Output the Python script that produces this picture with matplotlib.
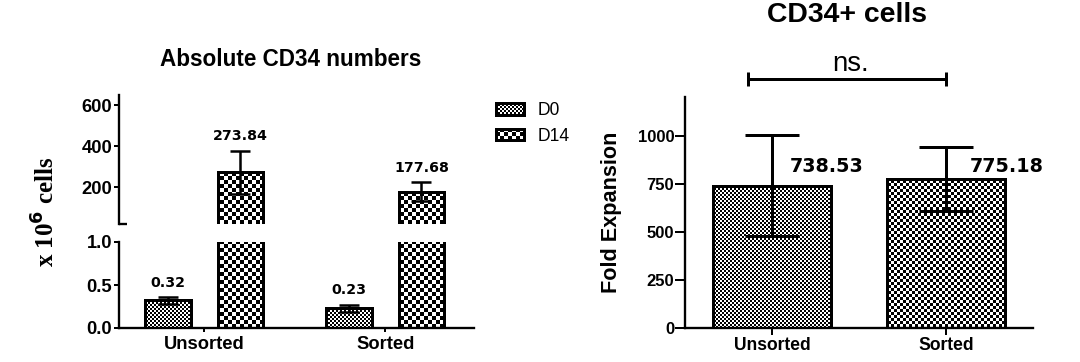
import numpy as np
import matplotlib
matplotlib.use('Agg')
import matplotlib.pyplot as plt
import matplotlib.hatch as mhatch
from matplotlib.path import Path

DPI = 120  # Agg draws a hatch tile of DPI x DPI pixels

# Data
groups = ['Unsorted', 'Sorted']
series = ['D0', 'D14']
d0_vals = [0.32, 0.23]
d0_err = [0.04, 0.04]
d14_vals = [273.84, 177.68]
d14_err = [105, 45]
fold_vals = [738.53, 775.18]
fold_err = [262, 165]


# Checkerboard style fills (GraphPad look): '+' * n -> n px squares,
# 'o' * n -> n px grid of slightly smaller dots
class Checker(mhatch.HatchPatternBase):
    char = '+'
    shrink = 0

    def __init__(self, hatch, density):
        self.cell = hatch.count(self.char)
        self.n = DPI // self.cell if self.cell else 0
        self.num_vertices = 5 * (self.n * self.n // 2)

    def set_vertices_and_codes(self, vertices, codes):
        ii, jj = np.meshgrid(np.arange(self.n), np.arange(self.n))
        mask = (ii + jj) % 2 == 0
        x0 = ii[mask] * self.cell / DPI
        y0 = jj[mask] * self.cell / DPI
        s = (self.cell - self.shrink) / DPI
        for k, (dx, dy) in enumerate([(0, 0), (s, 0), (s, s), (0, s), (0, 0)]):
            vertices[k::5, 0] = x0 + dx
            vertices[k::5, 1] = y0 + dy
        codes[:] = Path.LINETO
        codes[0::5] = Path.MOVETO
        codes[4::5] = Path.CLOSEPOLY


class Dots(Checker):
    char = 'o'
    shrink = 1


mhatch._hatch_types[:] = [Checker, Dots]

plt.rcParams['font.family'] = 'Liberation Sans'
plt.rcParams['hatch.linewidth'] = 0.0
plt.rcParams['axes.linewidth'] = 1.4

W, H = 1080, 362
fig = plt.figure(figsize=(W / DPI, H / DPI), dpi=DPI)


def px_axes(left, top, right, bottom):
    return fig.add_axes([left / W, 1 - bottom / H, (right - left) / W, (bottom - top) / H])


ax_top = px_axes(119, 95, 474, 224)
ax_bot = px_axes(119, 242, 474, 328)
ax_r = px_axes(685, 97, 1033, 328)

# ---- Left: absolute numbers with broken y axis ----
x = np.arange(len(groups))
off = 0.2
bw = 0.25
label_font = dict(family='DejaVu Sans', fontweight='bold', fontsize=8.5)

for ax in (ax_top, ax_bot):
    ax.bar(x - off, d0_vals, bw, color='white', edgecolor='black',
           linewidth=1.8, hatch='++', label=series[0])
    ax.bar(x + off, d14_vals, bw, color='white', edgecolor='black',
           linewidth=1.8, hatch='++++', label=series[1])
    ax.errorbar(x - off, d0_vals, yerr=d0_err, fmt='none', ecolor='black',
                elinewidth=1.5, capsize=6, capthick=1.5, zorder=3)
    ax.errorbar(x + off, d14_vals, yerr=d14_err, fmt='none', ecolor='black',
                elinewidth=1.5, capsize=6, capthick=1.5, zorder=3)
    for xs, vals, errs in ((x - off, d0_vals, d0_err), (x + off, d14_vals, d14_err)):
        for xi, v, e in zip(xs, vals, errs):
            ax.annotate(f'{v:.2f}', xy=(xi, v + e), xytext=(0, 4.5),
                        textcoords='offset points', ha='center', va='bottom',
                        **label_font)
    ax.set_xlim(-0.47, 1.49)
    ax.spines['top'].set_visible(False)
    ax.spines['right'].set_visible(False)
    ax.tick_params(axis='y', length=3, width=1.2, pad=1, labelsize=11)

ax_top.set_ylim(20, 650)
ax_top.set_yticks([200, 400, 600])
ax_top.set_yticks([20], minor=True)
ax_top.spines['bottom'].set_visible(False)
ax_top.tick_params(axis='x', bottom=False, labelbottom=False)
ax_top.tick_params(axis='y', which='minor', direction='in', length=5, width=1.4)

ax_bot.set_ylim(0, 1.0)
ax_bot.set_yticks([0, 0.5, 1.0], ['0.0', '0.5', '1.0'])
ax_bot.set_yticks([1.0], minor=True)
ax_bot.tick_params(axis='y', which='minor', direction='in', length=5, width=1.4)
ax_bot.set_xticks(x, groups)
ax_bot.tick_params(axis='x', length=2.5, width=1.2, pad=2.5, labelsize=11)
for ax in (ax_top, ax_bot):
    for t in ax.get_yticklabels() + ax.get_xticklabels():
        t.set_fontweight('bold')

fig.text(291 / W, 1 - 60 / H, 'Absolute CD34 numbers', ha='center', va='center',
         fontsize=13.5, fontweight='bold')
fig.text(46 / W, 1 - 212 / H, r'x 10$^{\mathbf{6}}$ cells', rotation=90,
         ha='center', va='center', family='Liberation Serif', fontsize=15,
         fontweight='bold')

handles, labels = ax_top.get_legend_handles_labels()
fig.legend(handles, labels, loc='upper left', bbox_to_anchor=(496 / W, 1 - 102 / H),
           frameon=False, borderpad=0, borderaxespad=0, fontsize=10.5,
           handlelength=1.6, handleheight=0.65, handletextpad=0.8, labelspacing=0.5)

# ---- Right: fold expansion ----
xr = np.arange(len(groups))
ax_r.bar(xr[0], fold_vals[0], 0.68, color='white', edgecolor='black', linewidth=1.8, hatch='++')
ax_r.bar(xr[1], fold_vals[1], 0.68, color='white', edgecolor='black', linewidth=1.8, hatch='+++')
ax_r.errorbar(xr, fold_vals, yerr=fold_err, fmt='none', ecolor='black',
              elinewidth=1.8, capsize=16, capthick=1.8, zorder=3)
label_offsets = [(10.8, 11.4), (14.4, 7.2)]
for xi, v, (dx, dy) in zip(xr, fold_vals, label_offsets):
    ax_r.annotate(f'{v:.2f}', xy=(xi, v), xytext=(dx, dy), textcoords='offset points',
                  ha='left', va='center', family='DejaVu Sans', fontweight='bold',
                  fontsize=11.5)

ax_r.set_xlim(-0.5, 1.5)
ax_r.set_ylim(0, 1200)
ax_r.set_yticks([0, 250, 500, 750, 1000])
ax_r.set_xticks(xr, groups)
ax_r.spines['top'].set_visible(False)
ax_r.spines['right'].set_visible(False)
ax_r.tick_params(axis='y', length=6, width=1.2, pad=0.5, labelsize=10)
ax_r.tick_params(axis='x', length=4, width=1.2, pad=1.5, labelsize=10.5)
for t in ax_r.get_yticklabels() + ax_r.get_xticklabels():
    t.set_fontweight('bold')

# significance bracket
br_y, br_h = 1294, 36
ax_r.hlines(br_y, -0.14, 1.0, color='black', lw=1.8, clip_on=False)
ax_r.vlines([-0.14, 1.0], br_y - br_h, br_y + br_h, color='black', lw=1.8, clip_on=False)
ax_r.text(0.45, 1372, 'ns.', ha='center', va='center', fontsize=16.5)

fig.text(612 / W, 1 - 212 / H, 'Fold Expansion', rotation=90, ha='center', va='center',
         fontsize=13, fontweight='bold')
fig.text(847 / W, 1 - 15 / H, 'CD34+ cells', ha='center', va='center',
         fontsize=17, fontweight='bold')

fig.savefig('out.png', dpi=DPI)
